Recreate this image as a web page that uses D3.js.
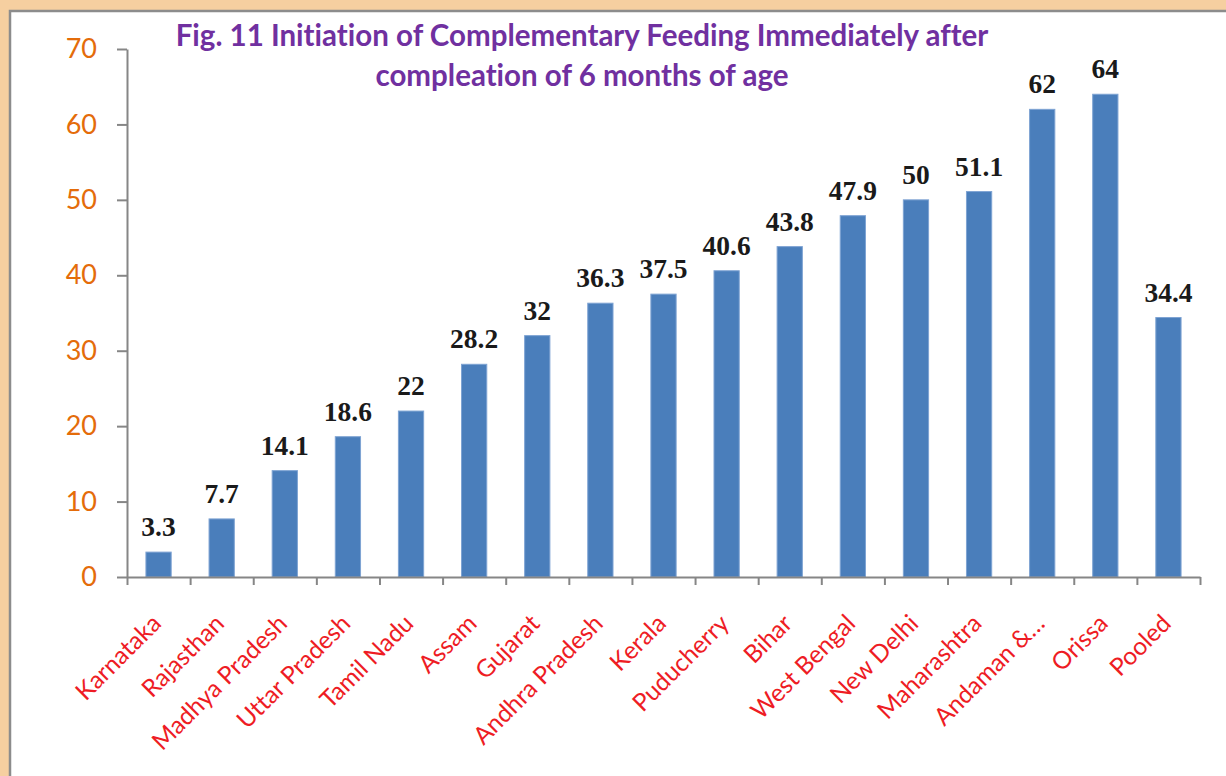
<!DOCTYPE html>
<html>
<head>
<meta charset="utf-8">
<script src="https://cdn.jsdelivr.net/npm/d3@7"></script>
<style>
  body { margin: 0; background: #f6cfa0; }
  svg { display: block; }
  text { font-variant-ligatures: none; }
</style>
</head>
<body>
<script>
var states = ['Karnataka', 'Rajasthan', 'Madhya Pradesh', 'Uttar Pradesh', 'Tamil Nadu',
  'Assam', 'Gujarat', 'Andhra Pradesh', 'Kerala', 'Puducherry', 'Bihar', 'West Bengal',
  'New Delhi', 'Maharashtra', 'Andaman &…', 'Orissa', 'Pooled']
var values = [3.3, 7.7, 14.1, 18.6, 22, 28.2, 32, 36.3, 37.5, 40.6, 43.8, 47.9, 50, 51.1, 62, 64, 34.4]
var yTicks = [0, 10, 20, 30, 40, 50, 60, 70]
var titleLines = ['Fig. 11 Initiation of Complementary Feeding Immediately after',
  'compleation of 6 months of age']

var W = 1226, H = 776
var plotLeft = 127, plotRight = 1200, plotTop = 49, plotBottom = 577

var svg = d3.select('body')
  .append('svg')
  .attr('width', W)
  .attr('height', H)

// white panel with grey border, runs off the right and bottom edges
svg.append('rect')
  .attr('x', 10)
  .attr('y', 11)
  .attr('width', W + 20)
  .attr('height', H + 20)
  .style('fill', '#fff')
  .style('stroke', '#8c8c8c')
  .style('stroke-width', '2.5px')

var x = d3.scaleBand()
  .domain(states)
  .range([plotLeft, plotRight])
  .paddingInner(0.6)
  .paddingOuter(0.3)

var xi = d3.scaleLinear()
  .domain([0, states.length])
  .range([plotLeft, plotRight])

var y = d3.scaleLinear()
  .domain([0, 70])
  .range([plotBottom, plotTop])

// title
svg.append('g')
  .selectAll('text')
  .data(titleLines)
  .enter()
  .append('text')
  .attr('x', 582)
  .attr('y', function(d, i) { return 46 + i * 40 })
  .attr('text-anchor', 'middle')
  .style('font-family', 'Lato, sans-serif')
  .style('font-weight', 'bold')
  .style('font-size', '29.5px')
  .style('fill', '#7030a0')
  .text(function(d) { return d })

// bars
svg.append('g')
  .selectAll('rect')
  .data(values)
  .enter()
  .append('rect')
  .attr('x', function(d, i) { return x(states[i]) })
  .attr('y', function(d) { return y(d) })
  .attr('width', x.bandwidth())
  .attr('height', function(d) { return y(0) - y(d) })
  .style('fill', '#4a7ebb')
  .style('stroke', '#7ea3d3')
  .style('stroke-width', '1px')

// value labels
svg.append('g')
  .selectAll('text')
  .data(values)
  .enter()
  .append('text')
  .attr('x', function(d, i) { return x(states[i]) + x.bandwidth() / 2 })
  .attr('y', function(d) { return y(d) - 16 })
  .attr('text-anchor', 'middle')
  .style('font-family', '"Liberation Serif", "Times New Roman", serif')
  .style('font-weight', 'bold')
  .style('font-size', '27.5px')
  .style('fill', '#1a1a1a')
  .text(function(d) { return d })

// y axis
var yAxis = svg.append('g')
  .attr('transform', 'translate(' + plotLeft + ',0)')
  .call(d3.axisLeft(y).tickValues(yTicks).tickSize(10).tickPadding(20).tickSizeOuter(0))
yAxis.selectAll('text')
  .style('font-family', 'Lato, sans-serif')
  .style('font-size', '27px')
  .style('fill', '#e46c0a')
yAxis.selectAll('line, path')
  .style('stroke', '#868686')
  .style('stroke-width', '2px')

// x axis, ticks between categories
var xAxis = svg.append('g')
  .attr('transform', 'translate(0,' + plotBottom + ')')
  .call(d3.axisBottom(xi).tickValues(d3.range(states.length + 1)).tickSize(8).tickFormat('').tickSizeOuter(0))
xAxis.selectAll('line, path')
  .style('stroke', '#868686')
  .style('stroke-width', '2px')

// category labels
svg.append('g')
  .selectAll('text')
  .data(states)
  .enter()
  .append('text')
  .attr('transform', function(d) {
    return 'translate(' + (x(d) + x.bandwidth() / 2 + 4) + ',625) rotate(-45)'
  })
  .attr('text-anchor', 'end')
  .style('font-family', 'Lato, sans-serif')
  .style('font-size', '24.5px')
  .style('fill', '#ee1c24')
  .text(function(d) { return d })
</script>
</body>
</html>
